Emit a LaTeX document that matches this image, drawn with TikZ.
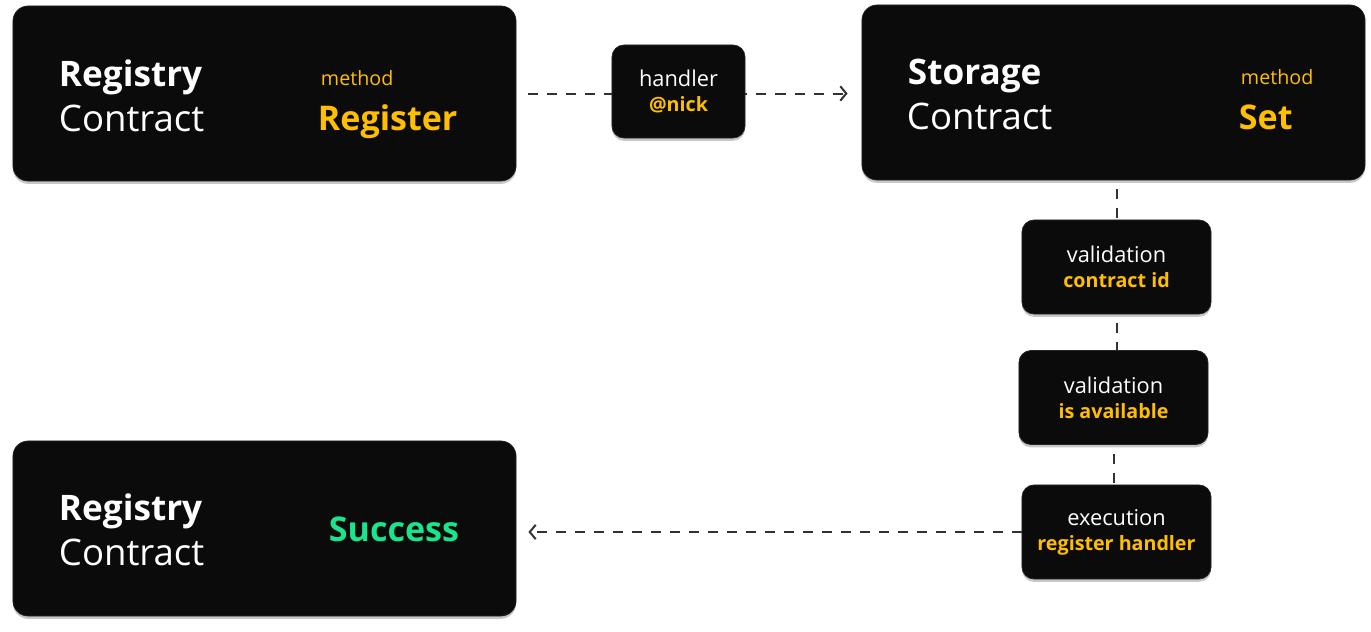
\documentclass[tikz,border=0pt]{standalone}
\usepackage{fontspec}
\setmainfont{Open Sans}
\usetikzlibrary{arrows.meta,shadows}
\definecolor{boxfill}{RGB}{11,11,11}
\definecolor{boxedge}{RGB}{38,38,38}
\definecolor{accent}{RGB}{255,190,0}
\definecolor{success}{RGB}{25,230,140}
\definecolor{linegray}{RGB}{50,50,50}
\newcommand{\titlefont}{\fontsize{25}{28}\selectfont}
\newcommand{\kindfont}{\fontsize{26}{28}\selectfont}
\newcommand{\callfont}{\fontsize{24.2}{28}\selectfont\bfseries}
\newcommand{\labelfont}{\fontsize{14}{16}\selectfont}
\newcommand{\stepfont}{\fontsize{15.5}{17.8}\selectfont}
\newcommand{\steptag}[1]{{\color{accent}\fontsize{14}{17.8}\selectfont\bfseries #1}}

\begin{document}
\begin{tikzpicture}[x=0.025cm, y=-0.025cm,
        card/.style={draw=boxedge, line width=0.5pt, fill=boxfill, rounded corners=0.38cm,
            drop shadow={shadow xshift=0cm, shadow yshift=-0.07cm, opacity=0.22, fill=black}},
        bigcard/.style={card, minimum width=12.575cm, minimum height=4.375cm},
        stepcard/.style={card, minimum width=4.725cm, minimum height=2.35cm, rounded corners=0.3cm,
            text=white, align=center, font=\stepfont},
        title/.style={anchor=base west, text=white, font=\kindfont},
        method/.style={anchor=base west, text=accent, font=\labelfont},
        call/.style={anchor=base west, text=accent, font=\callfont},
        flow/.style={linegray, line width=0.05cm, dash pattern=on 0.25cm off 0.225cm},
        tip/.style={-{Straight Barb[length=0.15cm, width=0.36cm, line width=0.05cm]}}
    ]
        \useasboundingbox (0,0) rectangle (1371,631);

        % contracts
        \node[bigcard] (regtop) at (264.5,93.5) {};
        \node[title, font=\titlefont\bfseries] (regtopname) at (54,86) {Registry};
        \node[title] (regtopkind) at (54,131) {Contract};
        \node[method] (regtopmeth) at (316,85) {method};
        \node[call] (regtopcall) at (313,130) {Register};

        \node[bigcard] (store) at (1113.5,92.5) {};
        \node[title, font=\titlefont\bfseries] (storename) at (903,84) {Storage};
        \node[title] (storekind) at (902,129) {Contract};
        \node[method] (storemeth) at (1236,84) {method};
        \node[call] (storecall) at (1234,129) {Set};

        \node[bigcard] (regbot) at (264.5,528.5) {};
        \node[title, font=\titlefont\bfseries] (regbotname) at (54,520) {Registry};
        \node[title] (regbotkind) at (54,565) {Contract};
        \node[call, text=success] (regbotdone) at (324,541) {Success};

        % steps
        \node[stepcard] (checkid) at (1116.5,267) {validation\\\steptag{contract id}};
        \node[stepcard] (checkfree) at (1113.5,397.5) {validation\\\steptag{is available}};
        \node[stepcard] (runhandler) at (1116.5,532) {execution\\\steptag{register handler}};

        % connectors
        \draw[flow, tip, shorten <=0.3cm, shorten >=0.35cm] (regtop.east) -- (regtop.east -| store.west);
        \node[stepcard, minimum width=3.325cm, minimum height=2.325cm] (handler) at (678.5,91.5) {handler\\\steptag{@nick}};

        \draw[flow, dash phase=0.25cm] (checkid.north |- store.south) -- (checkid.north);
        \draw[flow, dash phase=0.25cm] (checkid.south) -- (checkid.south |- checkfree.north);
        \draw[flow, dash phase=0.25cm] (checkfree.south) -- (checkfree.south |- runhandler.north);
        \draw[flow, tip, shorten >=0.3cm] (runhandler.west) -- (runhandler.west -| regbot.east);
    \end{tikzpicture}
\end{document}
